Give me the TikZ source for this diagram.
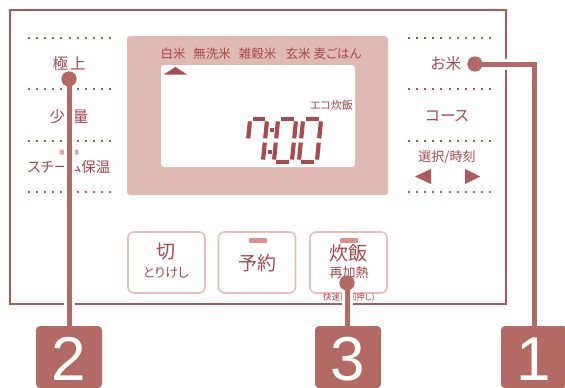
\documentclass[tikz,border=0pt]{standalone}
\usepackage{fontspec}
\newfontfamily\jp[RawFeature=+palt]{Noto Sans CJK JP}
\newfontfamily\numf{Liberation Sans}
\definecolor{dk}{HTML}{B0575A}
\definecolor{txt}{HTML}{A9474D}
\definecolor{panel}{HTML}{DFBAB2}
\definecolor{btn}{HTML}{E6BFB8}
\definecolor{led}{HTML}{D9928C}
\definecolor{conn}{HTML}{B36A65}
\definecolor{lcd}{HTML}{A94A4E}
\newcommand{\segdraw}[4]{\draw[segline] ({#1+0.1*(140.5-(#2))},#2) -- ({#3+0.1*(140.5-(#4))},#4);}
\newcommand{\digitA}[2]{\segdraw{#1+2.6}{118.8}{#1+#2-2.6}{118.8}}
\newcommand{\digitB}[2]{\segdraw{#1+#2}{121.4}{#1+#2}{138.4}}
\newcommand{\digitC}[2]{\segdraw{#1+#2}{142.6}{#1+#2}{159.6}}
\newcommand{\digitD}[2]{\segdraw{#1+2.6}{162.2}{#1+#2-2.6}{162.2}}
\newcommand{\digitE}[2]{\segdraw{#1}{142.6}{#1}{159.6}}
\newcommand{\digitF}[2]{\segdraw{#1}{121.4}{#1}{138.4}}
\begin{document}
\begin{tikzpicture}[x=1pt,y=-1pt,
  every node/.style={inner sep=0pt,outer sep=0pt},
  lbl/.style={font=\jp\fontsize{15.5}{15.5}\selectfont,text=txt},
  mode/.style={font=\jp\fontsize{12.5}{12.5}\selectfont,text=txt},
  btxt/.style={font=\jp\fontsize{19}{19}\selectfont,text=txt},
  stxt/.style={font=\jp\fontsize{13}{13}\selectfont,text=txt},
  dotl/.style={draw=dk,line width=2pt,dash pattern=on 2pt off 6.1pt},
  btnbox/.style={draw=btn,line width=1.6pt,rounded corners=6pt,minimum width=77pt,minimum height=61pt},
  ledbar/.style={fill=led,rounded corners=1pt,minimum width=18pt,minimum height=5pt},
  numbox/.style={fill=conn,rounded corners=4pt,minimum width=66pt,minimum height=62pt},
  numtxt/.style={text=white,font=\numf\fontsize{62}{62}\selectfont},
  dotc/.style={circle,fill=conn,minimum size=15pt},
  casing/.style={draw=white,line width=11pt},
  connl/.style={draw=conn,line width=5pt},
  segline/.style={draw=lcd,line width=4.2pt},
]
\useasboundingbox (0,0) rectangle (565,388);
\fill[white] (0,0) rectangle (565,388);
% outer frame
\draw[dk,line width=2pt] (10,10) rectangle (506,304);
% dotted rows
\foreach \yy in {38,89,141,192}{
  \draw[dotl] (28,\yy) -- (112,\yy);
  \draw[dotl] (408,\yy) -- (492,\yy);
}
% left labels
\node[lbl] (gokujo) at (69,64) {極\hspace{2pt}上};
\node[lbl] (shoryo) at (69,117) {少\hspace{8pt}量};
\node[lbl,font=\jp\fontsize{14.5}{14.5}\selectfont] (steam) at (69,167) {スチーム保温};
\node[fill=led!80,rounded corners=1pt,minimum size=5pt] (ledL1) at (62,152) {};
\node[fill=led!80,rounded corners=1pt,minimum size=5pt] (ledL2) at (76,152) {};
% right labels
\node[lbl] (okome) at (446,64) {お米};
\node[lbl] (course) at (447,116) {コース};
\node[stxt] (sentaku) at (447,157) {選択/時刻};
\fill[dk] (415,176.5) -- (431,169) -- (431,184) -- cycle;
\fill[dk] (480,176.5) -- (465,169) -- (465,184) -- cycle;
% display panel
\node[fill=panel,rounded corners=3pt,minimum width=261pt,minimum height=159pt] (panel) at (257.5,115.5) {};
\node[fill=white,rounded corners=3pt,minimum width=194pt,minimum height=102pt] (lcd) at (258,116) {};
\node[mode] (m1) at (173,54) {白米};
\node[mode] (m2) at (212,54) {無洗米};
\node[mode] (m3) at (257.5,54) {雑穀米};
\node[mode] (m4) at (298,54) {玄米};
\node[mode] (m5) at (337.5,54) {麦ごはん};
\fill[lcd] (164,74.5) -- (175.5,67) -- (187,74.5) -- cycle;
\node[mode,font=\jp\fontsize{11}{11}\selectfont,anchor=east] (eco) at (353,105) {エコ炊飯};
% seven segment 7:00
\digitA{248}{17}\digitB{248}{17}\digitC{248}{17}\digitF{248}{17}
\fill[lcd] (270.3,128.0) rectangle +(4,4);
\fill[lcd] (268.3,150.0) rectangle +(4,4);
\foreach \L in {276,301}{
  \digitA{\L}{18}\digitB{\L}{18}\digitC{\L}{18}\digitD{\L}{18}\digitE{\L}{18}\digitF{\L}{18}
}
% buttons
\node[btnbox] (k1) at (166.5,262.5) {};
\node[btnbox] (k2) at (257,262.5) {};
\node[btnbox] (k3) at (348.5,262.5) {};
\node[btxt] (k1a) at (166,252) {切};
\node[stxt] (k1b) at (166,272.5) {とりけし};
\node[ledbar] (led2) at (258,240.5) {};
\node[btxt] (k2a) at (257.5,263) {予約};
\node[ledbar] (led3) at (349,240.5) {};
\node[btxt] (k3a) at (348,253) {炊飯};
\node[stxt] (k3b) at (349,273) {再加熱};
\node[mode,font=\jp\fontsize{8.5}{8.5}\selectfont] (k3c) at (349,297.5) {快速(2回押し)};
% number boxes
\node[numbox] (b2) at (69,357) {};
\node[numbox] (b3) at (348,357) {};
\node[numbox] (b1) at (534,357) {};
\node[numtxt] (n2) at (69,359) {2};
\node[numtxt] (n3) at (348,359) {3};
\node[numtxt] (n1) at (534,359) {1};
% connector anchors
\node[dotc] (d2) at (69,79) {};
\node[dotc] (d3) at (347,283) {};
\node[dotc] (d1) at (475,64) {};
\coordinate (c1) at (534,64);
\draw[casing] (d2.center) -- (b2.north);
\draw[casing] (d3.center) -- (d3.center |- b3.north);
\draw[casing] (d1.center) -- (c1) -- (b1.north);
\draw[connl] (d2.center) -- (b2.north);
\draw[connl] (d3.center) -- (d3.center |- b3.north);
\draw[connl] (d1.center) -- (c1) -- (b1.north);
\node[dotc] at (d2) {};
\node[dotc] at (d3) {};
\node[dotc] at (d1) {};
\end{tikzpicture}
\end{document}
